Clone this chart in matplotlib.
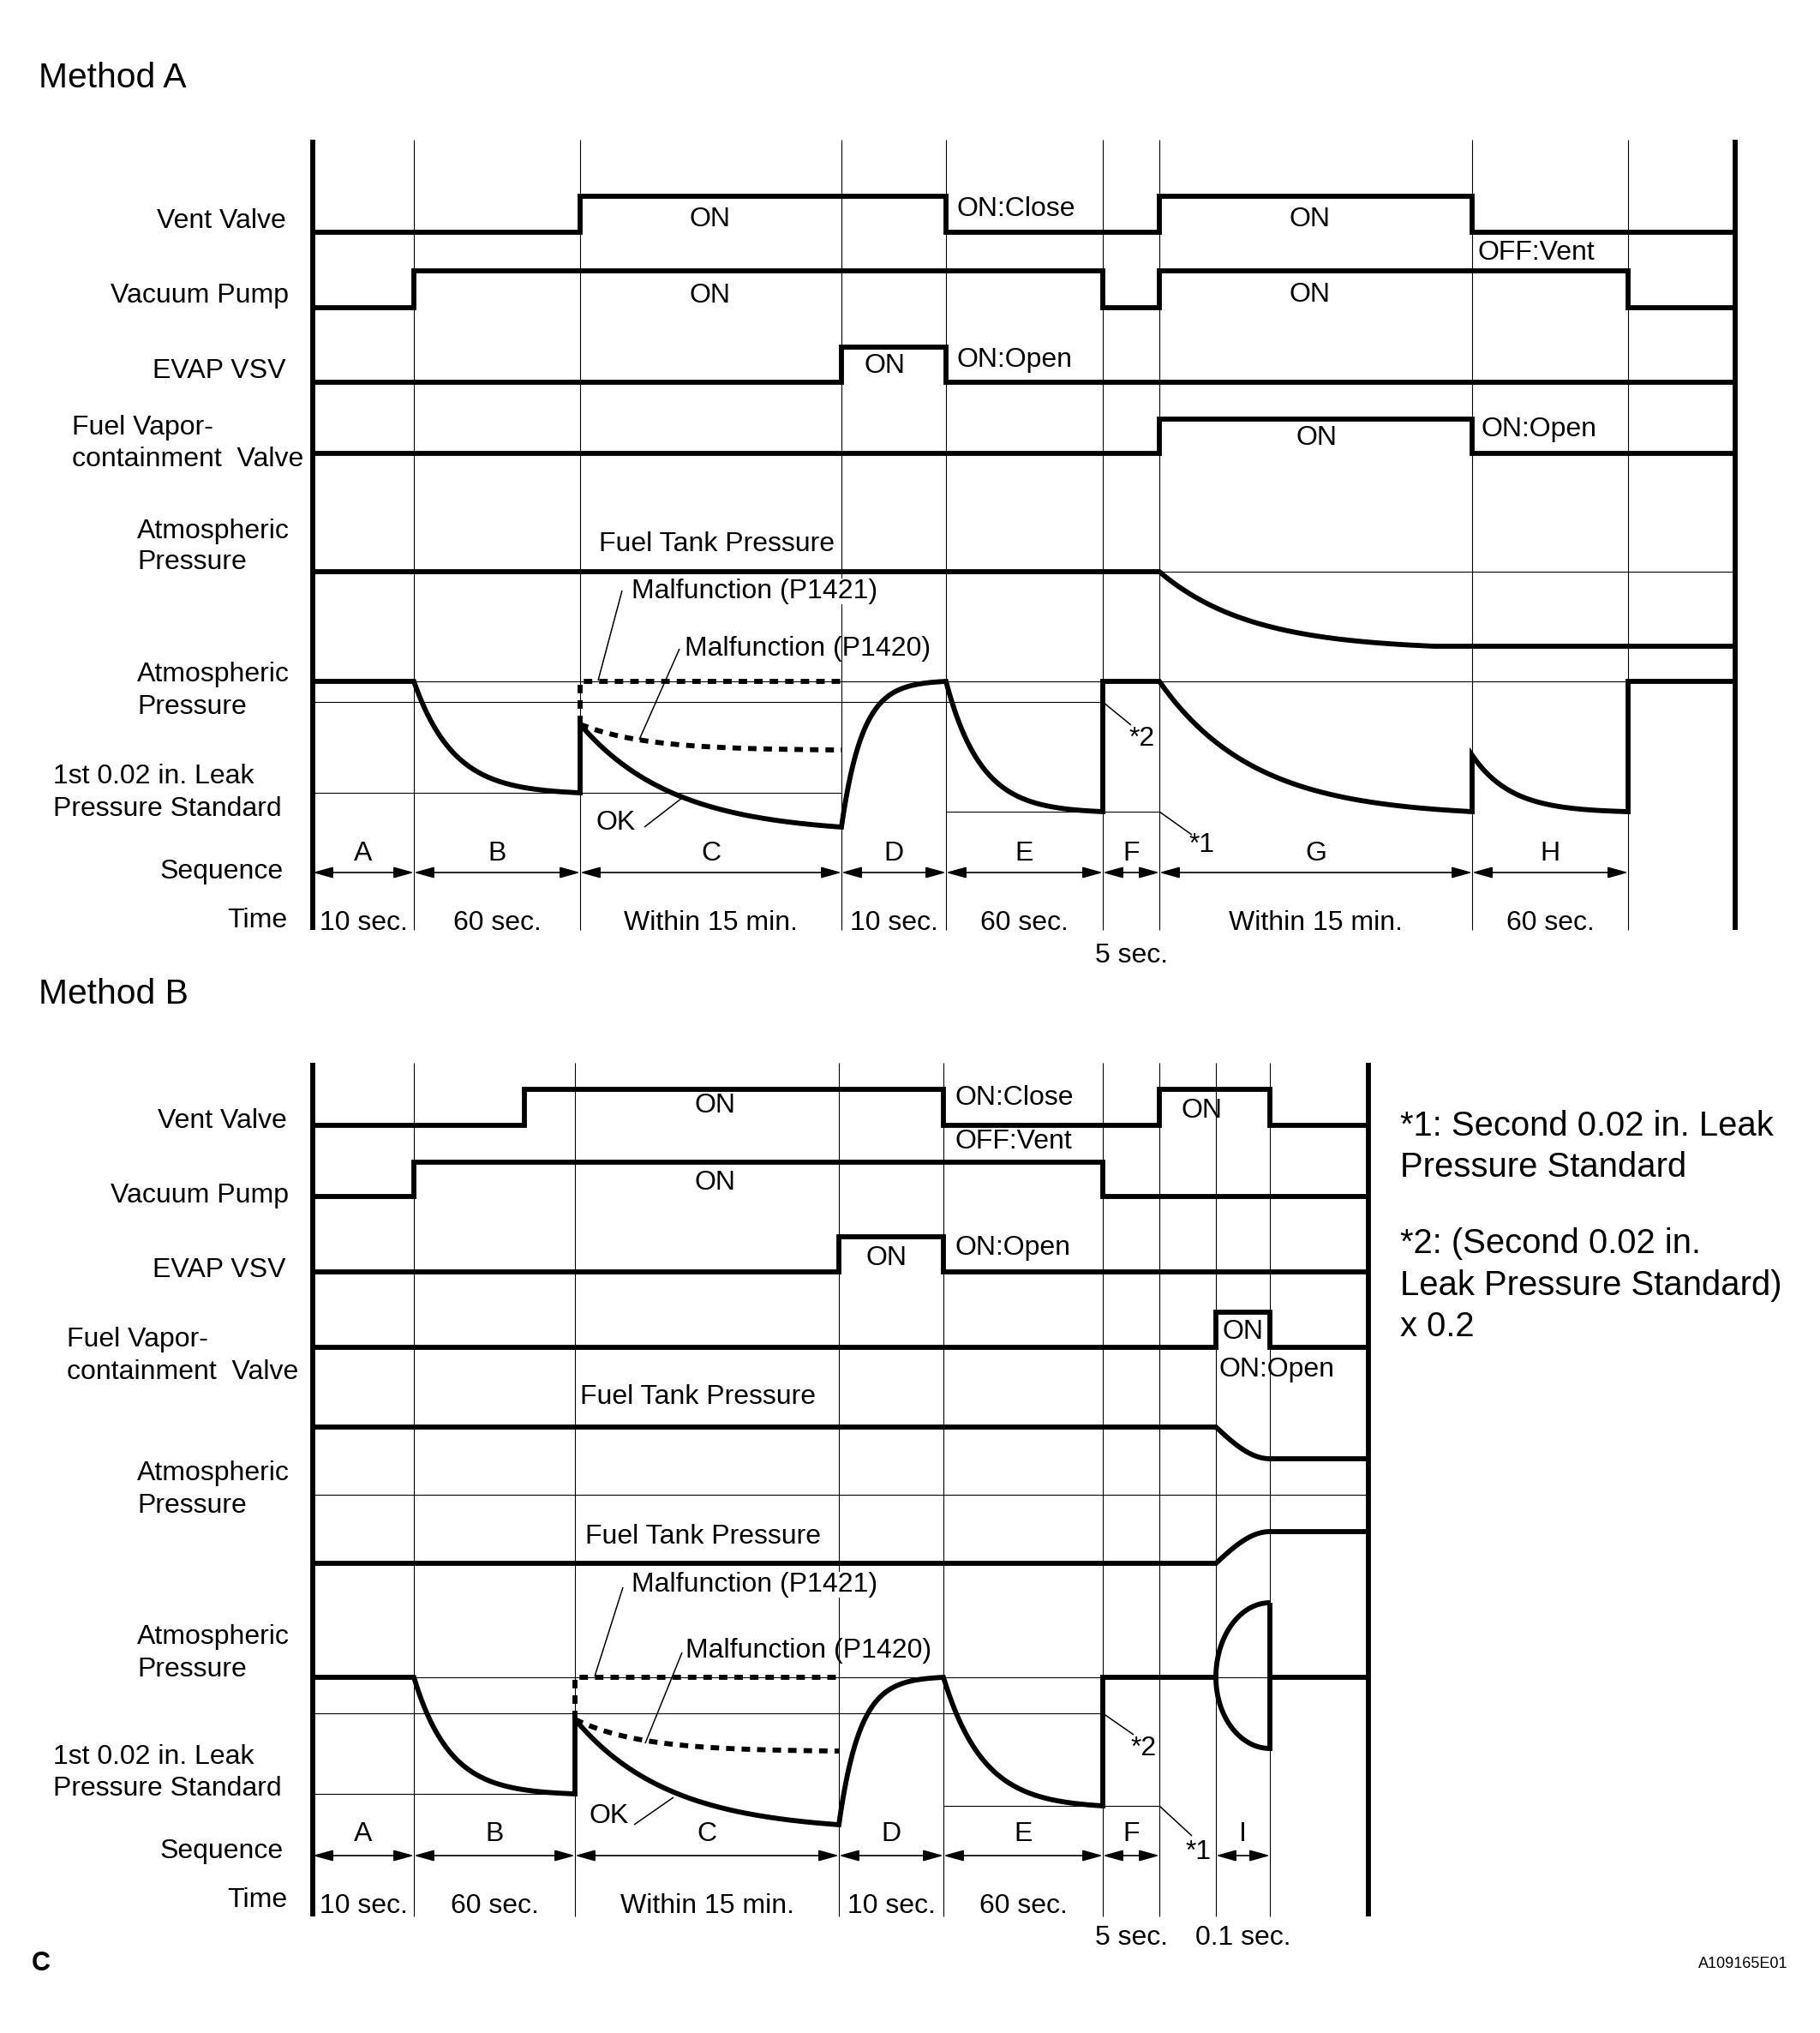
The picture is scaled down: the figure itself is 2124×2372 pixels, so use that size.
import numpy as np
import matplotlib.pyplot as plt

plt.rcParams['font.family'] = ['Liberation Sans', 'DejaVu Sans']

W, H = 2124, 2372

# ---------------- Method A ----------------
grid_a = [365, 483, 677, 982, 1104, 1287, 1353, 1718, 1900, 2025]
seq_a = ['A', 'B', 'C', 'D', 'E', 'F', 'G', 'H']
seq_a_idx = [0, 1, 2, 3, 4, 5, 6, 7]
time_a = ['10 sec.', '60 sec.', 'Within 15 min.', '10 sec.', '60 sec.',
          '5 sec.', 'Within 15 min.', '60 sec.']
time_a_low = [5]
# signal state per grid segment (1 = ON)
vent_a = [0, 0, 1, 1, 0, 0, 1, 0, 0]
pump_a = [0, 1, 1, 1, 1, 0, 1, 1, 0]
evap_a = [0, 0, 0, 1, 0, 0, 0, 0, 0]
fvc_a = [0, 0, 0, 0, 0, 0, 1, 0, 0]

# ---------------- Method B ----------------
grid_b = [365, 483, 671, 979, 1101, 1287, 1353, 1419, 1482, 1597]
seq_b = ['A', 'B', 'C', 'D', 'E', 'F', 'I']
seq_b_idx = [0, 1, 2, 3, 4, 5, 7]
time_b = ['10 sec.', '60 sec.', 'Within 15 min.', '10 sec.', '60 sec.',
          '5 sec.', '0.1 sec.']
time_b_low = [5, 6]
vent_b_edges = [365, 612, 1101, 1353, 1482, 1597]
vent_b = [0, 1, 0, 1, 0]
pump_b = [0, 1, 1, 1, 1, 0, 0, 0, 0]
evap_b = [0, 0, 0, 1, 0, 0, 0, 0, 0]
fvc_b = [0, 0, 0, 0, 0, 0, 0, 1, 0]

THICK = 4.2
THIN = 0.8
LBL = 23
NOTE = 28.8

fig = plt.figure(figsize=(W / 100, H / 100), dpi=100)
ax = fig.add_axes([0, 0, 1, 1])
ax.set_xlim(0, W)
ax.set_ylim(H, 0)
ax.axis('off')


def line(xs, ys, lw=THICK, **kw):
    ax.plot(xs, ys, color='black', lw=lw, solid_capstyle='butt',
            solid_joinstyle='miter', **kw)


def dotted(xs, ys):
    ax.plot(xs, ys, color='black', lw=4.2, ls=(0, (1.7, 1.4)),
            dash_capstyle='butt')


def steps(edges, states, low, high):
    xs, ys = [], []
    for i, s in enumerate(states):
        y = high if s else low
        xs += [edges[i], edges[i + 1]]
        ys += [y, y]
    line(xs, ys)


def trace(pieces):
    xs, ys = [], []
    t = np.linspace(0, 1, 120)
    for p in pieces:
        kind, x0, x1, y0, y1 = p[:5]
        if kind == 'flat':
            f = t * 0
        elif kind == 'exp':
            k = p[5]
            f = (1 - np.exp(-k * t)) / (1 - np.exp(-k))
        else:
            f = np.sin(t * np.pi / 2)
        xs.extend(x0 + (x1 - x0) * t)
        ys.extend(y0 + (y1 - y0) * f)
    return xs, ys


def txt(x, y, s, ha='left', size=LBL, **kw):
    ax.text(x, y, s, ha=ha, va='center', fontsize=size, color='black', **kw)


def leader(x0, y0, x1, y1):
    line([x0, x1], [y0, y1], lw=1.1)


def sequence(grid, idx, letters, times, low, y_let, y_arr, y_time, y_low):
    for j, i in enumerate(idx):
        x0, x1 = grid[i], grid[i + 1]
        ax.annotate('', xy=(x1, y_arr), xytext=(x0, y_arr),
                    arrowprops=dict(arrowstyle='<|-|>,head_length=0.72,head_width=0.2',
                                    lw=1.2, color='black', shrinkA=0, shrinkB=0,
                                    mutation_scale=20))
        xc = (x0 + x1) / 2
        txt(xc, y_let, letters[j], ha='center')
        txt(xc, y_low if j in low else y_time, times[j], ha='center')


def frame(grid, top, bot):
    for x in grid[1:-1]:
        line([x, x], [top, bot], lw=THIN)
    for x in (grid[0], grid[-1]):
        line([x, x], [top, bot])


# ================= Method A drawing =================
txt(45, 91, 'Method A', size=29.3)
frame(grid_a, 163, 1085)

steps(grid_a, vent_a, 271, 229)
steps(grid_a, pump_a, 359, 316)
steps(grid_a, evap_a, 446, 405)
steps(grid_a, fvc_a, 529, 489)

atm_a, star2_a, leak1_a, star1_a = 795, 819, 925, 947
line([grid_a[0], grid_a[-1]], [667, 667], lw=THIN)
line([grid_a[0], grid_a[-1]], [atm_a, atm_a], lw=THIN)
line([grid_a[0], grid_a[5]], [star2_a, star2_a], lw=THIN)
line([grid_a[0], grid_a[3]], [leak1_a, leak1_a], lw=THIN)
line([grid_a[4], grid_a[6]], [star1_a, star1_a], lw=THIN)

line(*trace([('flat', grid_a[0], grid_a[6], 667, 667),
             ('exp', grid_a[6], 1674, 667, 754, 3.0),
             ('flat', 1674, grid_a[-1], 754, 754)]))

line(*trace([('flat', grid_a[0], grid_a[1], atm_a, atm_a),
             ('exp', grid_a[1], grid_a[2], atm_a, leak1_a, 4.2),
             ('exp', grid_a[2], grid_a[3], 845, 965, 2.8),
             ('exp', grid_a[3], grid_a[4], 965, atm_a, 5.0),
             ('exp', grid_a[4], grid_a[5], atm_a, star1_a, 4.5),
             ('flat', grid_a[5], grid_a[6], atm_a, atm_a),
             ('exp', grid_a[6], grid_a[7], atm_a, star1_a, 3.3),
             ('exp', grid_a[7], grid_a[8], 881, star1_a, 4.0),
             ('flat', grid_a[8], grid_a[9], atm_a, atm_a)]))

dotted([grid_a[2], grid_a[2], grid_a[3]], [845, atm_a, atm_a])
dotted(*trace([('exp', grid_a[2], grid_a[3], 845, 875, 4.0)]))

sequence(grid_a, seq_a_idx, seq_a, time_a, time_a_low, 996, 1018, 1077, 1115)

txt(334, 258, 'Vent Valve', ha='right')
txt(337, 345, 'Vacuum Pump', ha='right')
txt(334, 433, 'EVAP VSV', ha='right')
txt(84, 499, 'Fuel Vapor-')
txt(84, 536, 'containment  Valve')
txt(160, 620, 'Atmospheric')
txt(160, 656, 'Pressure')
txt(160, 787, 'Atmospheric')
txt(160, 825, 'Pressure')
txt(62, 906, '1st 0.02 in. Leak')
txt(62, 944, 'Pressure Standard')
txt(331, 1017, 'Sequence', ha='right')
txt(335, 1074, 'Time', ha='right')

txt(828, 256, 'ON', ha='center')
txt(828, 345, 'ON', ha='center')
txt(1033, 427, 'ON', ha='center')
txt(1117, 244, 'ON:Close')
txt(1117, 420, 'ON:Open')
txt(1529, 256, 'ON', ha='center')
txt(1529, 344, 'ON', ha='center')
txt(1536, 511, 'ON', ha='center')
txt(1725, 295, 'OFF:Vent')
txt(1728, 501, 'ON:Open')
txt(699, 635, 'Fuel Tank Pressure')

txt(737, 690, 'Malfunction (P1421)',
    bbox=dict(facecolor='white', edgecolor='none', pad=0))
leader(726, 689, 698, 794)
txt(799, 757, 'Malfunction (P1420)')
leader(793, 757, 746, 863)
txt(719, 960, 'OK', ha='center')
leader(752, 965, 796, 931)
leader(grid_a[5], star2_a, 1320, 846)
txt(1318, 862, '*2')
leader(grid_a[6], star1_a, 1391, 974)
txt(1388, 986, '*1')

# ================= Method B drawing =================
txt(45, 1160, 'Method B', size=29.3)
frame(grid_b, 1240, 2236)

steps(vent_b_edges, vent_b, 1313, 1271)
steps(grid_b, pump_b, 1396, 1356)
steps(grid_b, evap_b, 1484, 1443)
steps(grid_b, fvc_b, 1572, 1531)

atm_b, star2_b, leak1_b, star1_b = 1957, 1999, 2093, 2107
line([grid_b[0], grid_b[-1]], [1744, 1744], lw=THIN)
line([grid_b[0], grid_b[-1]], [atm_b, atm_b], lw=THIN)
line([grid_b[0], grid_b[5]], [star2_b, star2_b], lw=THIN)
line([grid_b[0], grid_b[2]], [leak1_b, leak1_b], lw=THIN)
line([grid_b[4], grid_b[6]], [star1_b, star1_b], lw=THIN)

line(*trace([('flat', grid_b[0], grid_b[7], 1665, 1665),
             ('ease', grid_b[7], grid_b[8], 1665, 1702),
             ('flat', grid_b[8], grid_b[9], 1702, 1702)]))
line(*trace([('flat', grid_b[0], grid_b[7], 1824, 1824),
             ('ease', grid_b[7], grid_b[8], 1824, 1787),
             ('flat', grid_b[8], grid_b[9], 1787, 1787)]))

line(*trace([('flat', grid_b[0], grid_b[1], atm_b, atm_b),
             ('exp', grid_b[1], grid_b[2], atm_b, leak1_b, 4.5),
             ('exp', grid_b[2], grid_b[3], 2006, 2129, 2.8),
             ('exp', grid_b[3], grid_b[4], 2129, atm_b, 5.0),
             ('exp', grid_b[4], grid_b[5], atm_b, star1_b, 4.0),
             ('flat', grid_b[5], grid_b[7], atm_b, atm_b)]))
line([grid_b[8], grid_b[9]], [atm_b, atm_b])

# half-ellipse bulge during I
th = np.linspace(0, np.pi / 2, 60)
bx0, bx1 = grid_b[7], grid_b[8]
up = atm_b - 87 * np.sin(th[::-1])
dn = atm_b + 83 * np.sin(th)
xs = list(bx1 - (bx1 - bx0) * np.cos(th[::-1])) + list(bx1 - (bx1 - bx0) * np.cos(th)) + [bx1, bx1]
ys = list(up) + list(dn) + [up[0], up[0]]
line(xs, ys)

dotted([grid_b[2], grid_b[2], grid_b[3]], [2006, atm_b, atm_b])
dotted(*trace([('exp', grid_b[2], grid_b[3], 2006, 2043, 4.0)]))

sequence(grid_b, seq_b_idx, seq_b, time_b, time_b_low, 2140, 2165, 2224, 2261)

txt(335, 1308, 'Vent Valve', ha='right')
txt(337, 1395, 'Vacuum Pump', ha='right')
txt(334, 1482, 'EVAP VSV', ha='right')
txt(78, 1563, 'Fuel Vapor-')
txt(78, 1601, 'containment  Valve')
txt(160, 1719, 'Atmospheric')
txt(160, 1757, 'Pressure')
txt(160, 1910, 'Atmospheric')
txt(160, 1948, 'Pressure')
txt(62, 2050, '1st 0.02 in. Leak')
txt(62, 2087, 'Pressure Standard')
txt(331, 2160, 'Sequence', ha='right')
txt(335, 2217, 'Time', ha='right')

txt(834, 1290, 'ON', ha='center')
txt(834, 1380, 'ON', ha='center')
txt(1034, 1468, 'ON', ha='center')
txt(1115, 1281, 'ON:Close')
txt(1115, 1332, 'OFF:Vent')
txt(1115, 1456, 'ON:Open')
txt(1403, 1296, 'ON', ha='center')
txt(1450, 1554, 'ON', ha='center')
txt(1423, 1598, 'ON:Open')
txt(677, 1630, 'Fuel Tank Pressure')
txt(683, 1793, 'Fuel Tank Pressure')

txt(737, 1849, 'Malfunction (P1421)',
    bbox=dict(facecolor='white', edgecolor='none', pad=0))
leader(727, 1852, 694, 1956)
txt(800, 1926, 'Malfunction (P1420)')
leader(796, 1928, 753, 2034)
txt(711, 2119, 'OK', ha='center')
leader(740, 2129, 786, 2097)
leader(grid_b[5], star2_b, 1323, 2024)
txt(1320, 2040, '*2')
leader(grid_b[6], star1_b, 1391, 2142)
txt(1384, 2161, '*1')

# footnotes
txt(1634, 1314, '*1: Second 0.02 in. Leak', size=NOTE)
txt(1634, 1362, 'Pressure Standard', size=NOTE)
txt(1634, 1451, '*2: (Second 0.02 in.', size=NOTE)
txt(1634, 1500, 'Leak Pressure Standard)', size=NOTE)
txt(1634, 1548, 'x 0.2', size=NOTE)

txt(37, 2291, 'C', size=22, fontweight='bold')
txt(2086, 2292, 'A109165E01', ha='right', size=13)

fig.savefig('out.png', dpi=100)
